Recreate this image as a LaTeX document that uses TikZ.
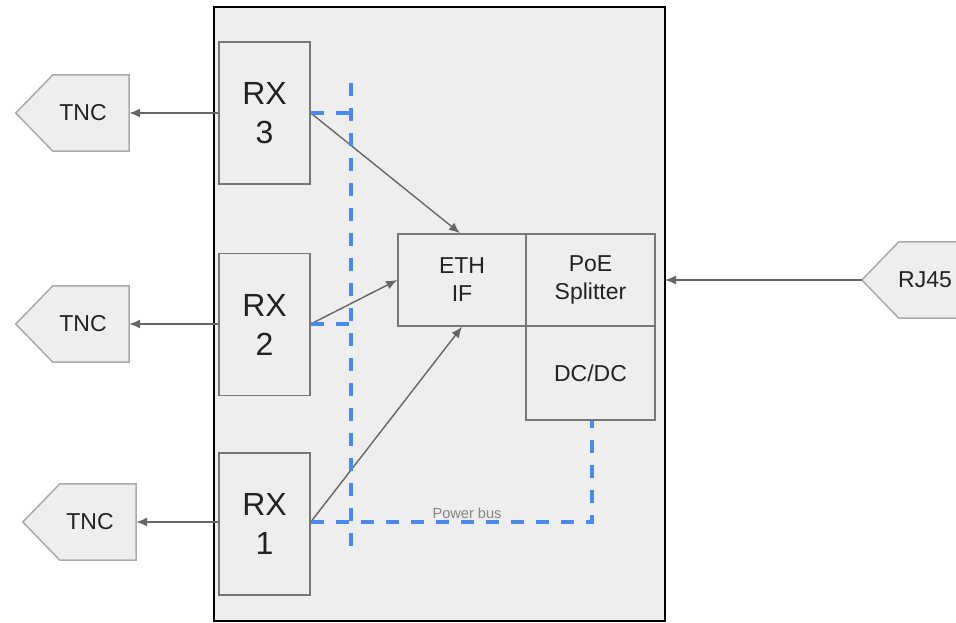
\documentclass[tikz,border=0pt]{standalone}
\usepackage{fontspec}
\setmainfont{Liberation Sans}
\usetikzlibrary{arrows.meta,calc}
\pgfdeclarelayer{bg}
\pgfsetlayers{bg,main}
\definecolor{boxfill}{HTML}{EEEEEE}
\definecolor{boxline}{HTML}{777777}
\definecolor{conline}{HTML}{AAAAAA}
\definecolor{arrline}{HTML}{666666}
\definecolor{busblue}{HTML}{4A8AF0}
\definecolor{txt}{HTML}{222222}
\tikzset{
  mainbox/.style={draw=black,line width=2.6pt,fill=boxfill},
  rxbox/.style={draw=boxline,line width=1.5pt,fill=boxfill,minimum width=91pt,minimum height=142pt,inner sep=0pt,align=center,text=txt,font=\fontsize{32}{39}\selectfont},
  blockbox/.style={draw=boxline,line width=1.5pt,fill=boxfill,inner sep=0pt,align=center,text=txt,font=\fontsize{23}{28}\selectfont},
  conbody/.style={minimum width=76pt,minimum height=76pt,inner sep=0pt},
  conshape/.style={draw=conline,line width=1.5pt,fill=boxfill,line join=miter},
  context/.style={text=txt,font=\fontsize{23}{28}\selectfont},
  sig/.style={draw=arrline,line width=1.4pt,-{Latex[length=11pt,width=9pt]}},
  bus/.style={draw=busblue,line width=3.2pt,dash pattern=on 13pt off 12pt},
  buslabel/.style={text=boxline!90,font=\fontsize{14.6}{16}\selectfont}
}
\begin{document}
\begin{tikzpicture}[x=1pt,y=-1pt]
\useasboundingbox (0,0) rectangle (956,623);
% main enclosure
\begin{pgfonlayer}{bg}
\draw[mainbox] (214,7) rectangle (665,621);
\end{pgfonlayer}

% receivers
\node[rxbox] (rx3) at (264.5,113) {RX\\3};
\node[rxbox] (rx2) at (264.5,324.5) {RX\\2};
\node[rxbox] (rx1) at (264.5,524) {RX\\1};

% blocks
\node[blockbox,minimum width=128pt,minimum height=92pt] (eth) at (462,280) {ETH\\IF};
\node[blockbox,minimum width=129pt,minimum height=92pt] (poe) at (590.5,280) {PoE\\Splitter};
\node[blockbox,minimum width=129pt,minimum height=94pt] (dc) at (590.5,373) {DC/DC};

% connectors (bodies)
\node[conbody,label={[context,xshift=-8pt]center:TNC}] (t3) at (91,113) {};
\node[conbody,label={[context,xshift=-8pt]center:TNC}] (t2) at (91,324) {};
\node[conbody,label={[context,xshift=-8pt]center:TNC}] (t1) at (98,522) {};
\node[conbody,label={[context,xshift=-12pt]center:RJ45}] (rj) at (937,280) {};
\begin{pgfonlayer}{bg}
\foreach \n in {t3,t2,t1,rj}{
  \draw[conshape] (\n.north west) -- (\n.north east) -- (\n.south east) -- (\n.south west) -- ($(\n.west)+(-37,0)$) -- cycle;
}
\end{pgfonlayer}

% signal arrows
\draw[sig] (t3.east -| rx3.west) -- (t3.east);
\draw[sig] (t2.east -| rx2.west) -- (t2.east);
\draw[sig] (t1.east -| rx1.west) -- (t1.east);
\draw[sig] ($(rj.west)+(-37,0)$) -- (665,280);
\draw[sig] (rx3.east) -- ($(eth.north)+(-2,0)$);
\draw[sig] (t2.east -| rx2.east) -- (eth.west);
\draw[sig] (t1.east -| rx1.east) -- (eth.south);

% power bus
\coordinate (bt) at (351,83);
\coordinate (bb) at (351,549);
\coordinate (b3) at (351,113);
\coordinate (b2) at (351,324);
\coordinate (bc) at (592,522);
\draw[bus] (bt) -- (bb);
\draw[bus] (rx3.east) -- (b3);
\draw[bus] (t2.east -| rx2.east) -- (b2);
\draw[bus] (rx1.east |- bc) -- (bc) -- (dc.south -| bc);
\node[buslabel] (pbl) at (467,513) {Power bus};
\end{tikzpicture}
\end{document}
